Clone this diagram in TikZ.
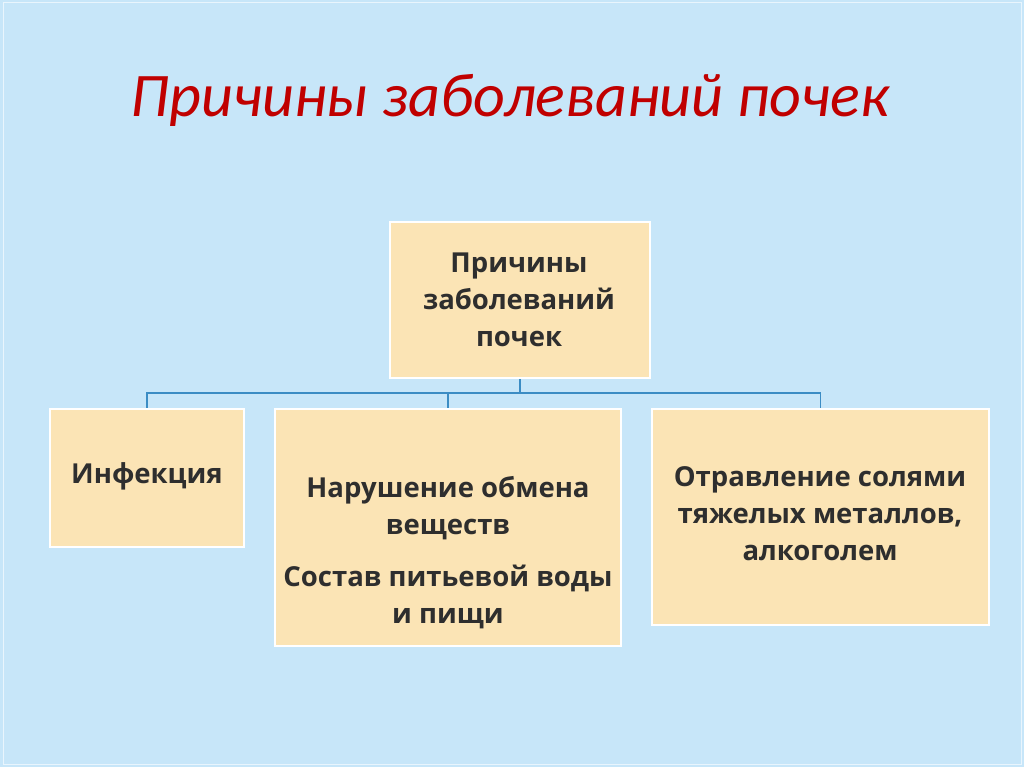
\documentclass[tikz,border=0pt]{standalone}
\usepackage{fontspec}
\setmainfont{Carlito}
\newfontfamily\boxfont{Open Sans}
\begin{document}
\begin{tikzpicture}[x=1pt,y=-1pt,
  box/.style={draw=white,line width=2.5pt,fill=boxfill,inner sep=0pt},
  lbl/.style={align=center,text=txt,font=\boxfont\fontsize{27.5}{37}\selectfont\bfseries,inner sep=0pt},
  conn/.style={draw=linec,line width=1.6pt}]
\definecolor{bg}{HTML}{C7E6F9}
\definecolor{boxfill}{HTML}{FBE4B5}
\definecolor{txt}{HTML}{2E2E2E}
\definecolor{linec}{HTML}{3B8CC4}
\definecolor{ttl}{HTML}{C00000}
\fill[bg] (0,0) rectangle (1024,767);
\draw[white!60!bg,line width=1pt] (3,3) rectangle (1021,764);
\node[text=ttl,font=\fontsize{62}{64}\selectfont\itshape] (title) at (510,100) {Причины заболеваний почек};
\node[box,minimum width=260,minimum height=156] (top) at (520,300) {};
\node[box,minimum width=194,minimum height=138] (a) at (147,478) {};
\node[box,minimum width=346,minimum height=237] (b) at (448,527.5) {};
\node[box,minimum width=337,minimum height=216] (c) at (820.5,517) {};
\node[lbl] (ta) at (519,300) {Причины\\заболеваний\\почек};
\node[lbl] (tb) at (147,476) {Инфекция};
\node[lbl] (tc) at (448,508) {Нарушение обмена\\веществ};
\node[lbl] (td) at (448,597) {Состав питьевой воды\\и пищи};
\node[lbl] (te) at (820,514) {Отравление солями\\тяжелых металлов,\\алкоголем};
\coordinate (j) at (520,393);
\draw[conn] (top.south) -- (j);
\draw[conn] (a.north) -- (a.north |- j) -- (c.north |- j) -- (c.north);
\draw[conn] (b.north |- j) -- (b.north);
\end{tikzpicture}
\end{document}
